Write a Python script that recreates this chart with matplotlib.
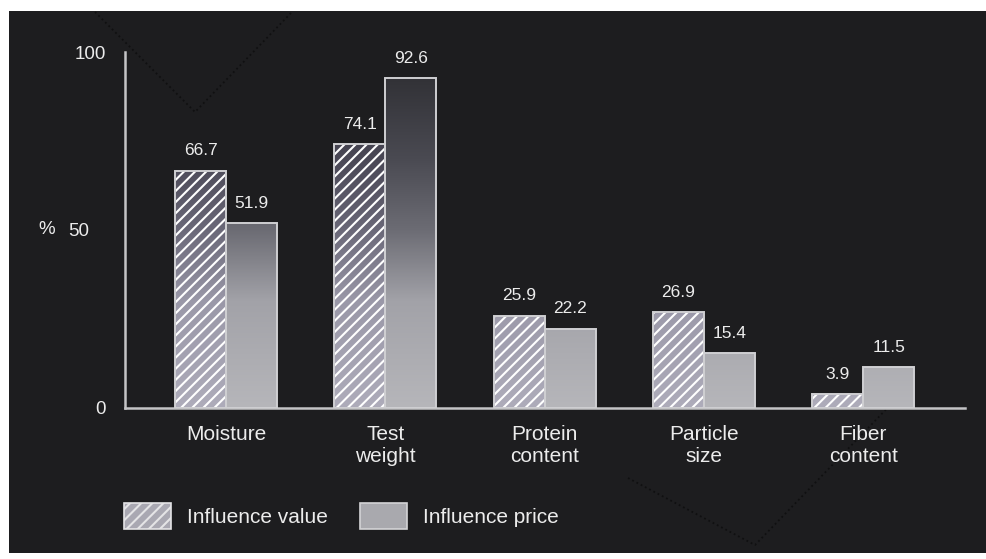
import matplotlib
matplotlib.use("Agg")
import matplotlib.pyplot as plt
import numpy as np
from matplotlib.colors import LinearSegmentedColormap
from matplotlib.patches import Rectangle, Patch
from matplotlib.lines import Line2D
from matplotlib import transforms

# ---- data -------------------------------------------------------------
categories = ["Moisture", "Test\nweight", "Protein\ncontent", "Particle\nsize", "Fiber\ncontent"]
influence_value = [66.7, 74.1, 25.9, 26.9, 3.9]
influence_price = [51.9, 92.6, 22.2, 15.4, 11.5]
series_names = ["Influence value", "Influence price"]
y_ticks = [0, 50, 100]
y_tick_labels = ["0", "50", "100"]

# ---- style ------------------------------------------------------------
plt.rcParams['font.family'] = ['Liberation Sans', 'DejaVu Sans']
plt.rcParams['hatch.linewidth'] = 1.5
plt.rcParams['hatch.color'] = 'white'

BG = '#1d1d1f'
FG = '#ececec'
AXIS = '#c4c4c6'

W, H = 987, 559
fig = plt.figure(figsize=(W / 100, H / 100), dpi=100, facecolor='white')


def fx(px):
    return px / W


def fy(py):
    return 1 - py / H


# dark slide panel
fig.patches.append(Rectangle((fx(9), fy(553)), (W - 9) / W, (553 - 11) / H,
                             transform=fig.transFigure, facecolor=BG,
                             edgecolor='none', zorder=-2))

# faint dotted fold lines across the slide
for xs, ys in [([95, 195, 292], [12, 112, 12]),
               ([628, 755, 900], [478, 545, 395])]:
    fig.add_artist(Line2D([fx(v) for v in xs], [fy(v) for v in ys],
                          transform=fig.transFigure, color='#101011',
                          lw=1.3, ls=':', zorder=-1))

ax = fig.add_axes([fx(125), fy(408), (965 - 125) / W, (408 - 52) / H])
ax.set_facecolor('none')

# vertical shading: light near the baseline, dark towards the top
price_cmap = LinearSegmentedColormap.from_list(
    'price', [(0.0, '#b6b6ba'), (0.3, '#a2a2a8'), (0.5, '#6c6c74'),
              (0.7, '#4a4a52'), (1.0, '#2a2a2e')])
value_cmap = LinearSegmentedColormap.from_list(
    'value', [(0.0, '#aeacba'), (0.3, '#9a98a8'), (0.5, '#6a6878'),
              (0.7, '#4a4856'), (1.0, '#2c2a32')])
grad = np.linspace(0, 1, 256).reshape(-1, 1)

x = np.arange(len(categories))
w = 0.32
pos_value = x - w / 2
pos_price = x + w / 2


def shaded_bars(pos, vals, cmap, hatch=None):
    bars = ax.bar(pos, vals, w, facecolor='none', edgecolor='none', zorder=2)
    for b in bars:
        x0 = b.get_x()
        im = ax.imshow(grad, extent=[x0, x0 + w, 0, 100], origin='lower',
                       aspect='auto', cmap=cmap, vmin=0, vmax=1, zorder=2)
        im.set_clip_path(b)
    if hatch:
        ax.bar(pos, vals, w, facecolor='none', edgecolor='white',
               hatch=hatch, linewidth=0, zorder=3)
    ax.bar(pos, vals, w, facecolor='none', edgecolor='#cfcfd2',
           linewidth=1.4, zorder=4)
    for p, v in zip(pos, vals):
        ax.annotate(f"{v:.1f}", (p, v), xytext=(0, 9),
                    textcoords='offset points', ha='center', va='bottom',
                    fontsize=12.5, color=FG)


shaded_bars(pos_value, influence_value, value_cmap, hatch='///')
shaded_bars(pos_price, influence_price, price_cmap)

ax.set_xlim(-0.635, len(categories) - 1 + 0.64)
ax.set_ylim(0, 100)

for side in ('top', 'right'):
    ax.spines[side].set_visible(False)
for side in ('left', 'bottom'):
    ax.spines[side].set_color(AXIS)
    ax.spines[side].set_linewidth(1.8)

ax.set_xticks(x, categories)
ax.tick_params(axis='x', length=0, pad=12, labelsize=15, labelcolor=FG)
for lbl in ax.get_xticklabels():
    lbl.set_linespacing(1.2)

ax.set_yticks(y_ticks, y_tick_labels)
ax.tick_params(axis='y', length=0, pad=14, labelsize=13.5, labelcolor=FG)
lbl50 = ax.get_yticklabels()[1]
lbl50.set_transform(lbl50.get_transform() +
                    transforms.ScaledTranslation(-0.16, 0, fig.dpi_scale_trans))

ax.set_ylabel('%', rotation=0, fontsize=13.5, color=FG, va='center', ha='center')
ax.yaxis.set_label_coords((47 - 125) / 840, 0.5)

handles = [Patch(facecolor='#a9a8b2', edgecolor='#e4e4e6', hatch='///', linewidth=1.2),
           Patch(facecolor='#a9a9ae', edgecolor='#d4d4d6', linewidth=1.2)]
leg = fig.legend(handles, series_names, loc='center left',
                 bbox_to_anchor=(fx(124), fy(516)), ncol=2, frameon=False,
                 fontsize=15, handlelength=2.26, handleheight=1.54,
                 handletextpad=0.77, columnspacing=1.54, borderpad=0,
                 borderaxespad=0)
for t in leg.get_texts():
    t.set_color(FG)

fig.savefig('out.png', dpi=100, facecolor='white')
